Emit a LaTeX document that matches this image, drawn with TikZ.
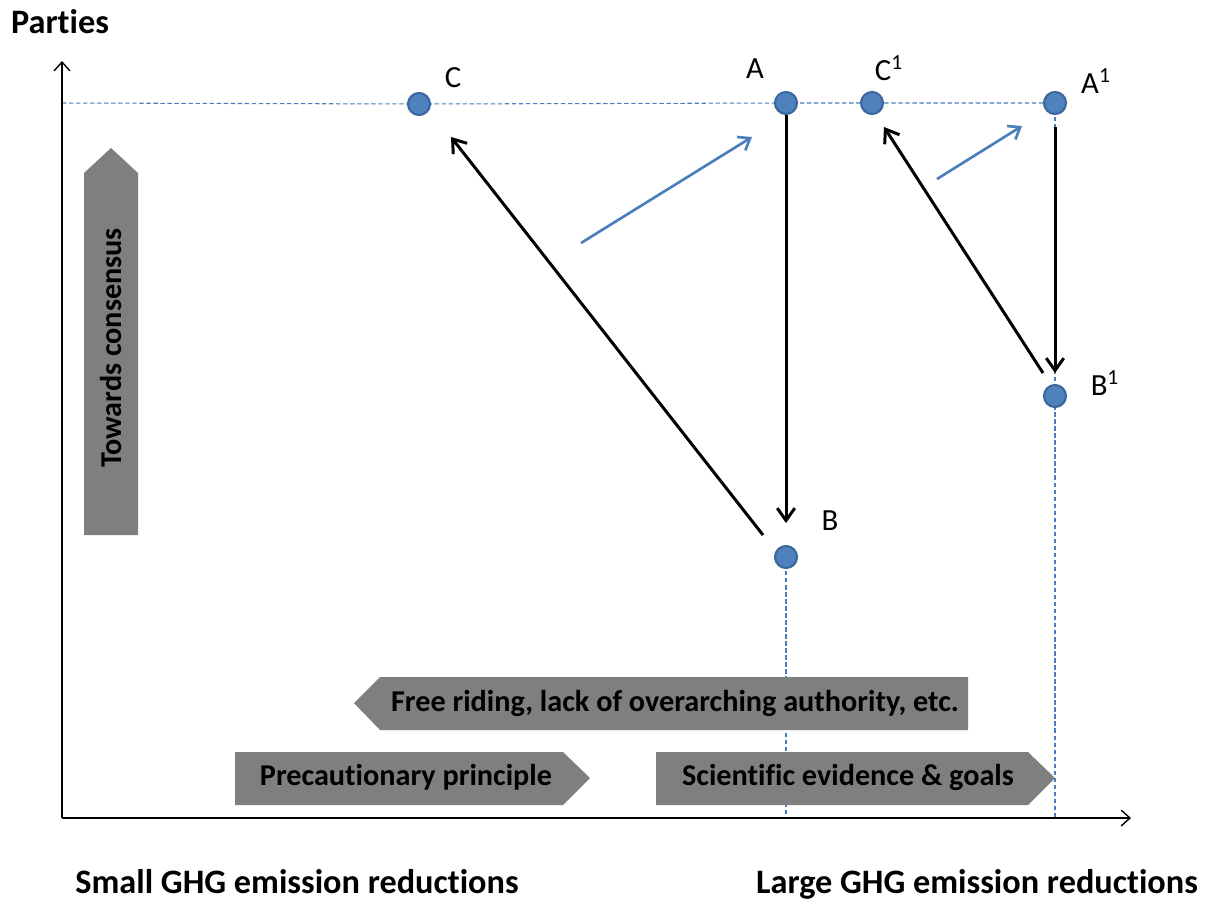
\documentclass[tikz,border=0pt]{standalone}
\usepackage{fontspec}
\setmainfont[Ligatures=NoCommon]{Carlito}
\usetikzlibrary{arrows.meta,backgrounds}
\definecolor{ptfill}{HTML}{4F81BD}
\definecolor{ptedge}{HTML}{3A679C}
\definecolor{dashblue}{HTML}{4A7EBB}
\definecolor{boxgray}{HTML}{7F7F7F}
\tikzset{
  pt/.style={circle, fill=ptfill, draw=ptedge, line width=1.2pt, minimum size=0.44cm, inner sep=0pt},
  guide/.style={dashblue, line width=0.6pt, dash pattern=on 2.5pt off 1.5pt},
  axisline/.style={black, line width=0.8pt, -{Straight Barb[length=5pt,width=9pt]}},
  blackmove/.style={black, line width=1.7pt, -{Straight Barb[length=7pt,width=10pt,line width=1.7pt]}},
  bluemove/.style={dashblue, line width=1.5pt, -{Straight Barb[length=6pt,width=9pt,line width=1.5pt]}},
  lbl/.style={font=\fontsize{17.5}{20}\selectfont, inner sep=0pt},
  boxtxt/.style={font=\fontsize{17.2}{20}\selectfont\bfseries, inner sep=0pt},
  bigtxt/.style={font=\fontsize{19.5}{22}\selectfont\bfseries, inner sep=0pt},
}
\begin{document}
\begin{tikzpicture}[x=0.02cm, y=-0.02cm]
\useasboundingbox (0,0) rectangle (1207,904);
% axes
\coordinate (O) at (62,818);
\coordinate (Ytop) at (62,61);
\coordinate (Xend) at (1131,818);
\draw[axisline] (O) -- (Ytop);
\draw[axisline] (O) -- (Xend);
% points
\node[pt] (C) at (419,104) {};
\node[pt] (A) at (786,103) {};
\node[pt] (C1) at (872,103) {};
\node[pt] (A1) at (1055,103) {};
\node[pt] (B1) at (1055,396) {};
\node[pt] (B) at (786,557) {};
\coordinate (Bfoot) at (786,818);
\coordinate (B1foot) at (1055,818);
\coordinate (Yh) at (62,103);
% guides (behind everything)
\begin{pgfonlayer}{background}
\draw[guide] (Yh) -- (C.center) -- (A.center) -- (C1.center) -- (A1.center);
\draw[guide] (A1.center) -- (B1.center) -- (B1foot);
\draw[guide] (B.center) -- (Bfoot);
\end{pgfonlayer}
% gray shapes
\fill[boxgray] (84,535) -- (84,173) -- (111,148) -- (138,173) -- (138,535) -- cycle;
\node[boxtxt, rotate=90] (tc) at (111,348) {Towards consensus};
\fill[boxgray] (354,703) -- (380,677) -- (968,677) -- (968,730) -- (380,730) -- cycle;
\node[boxtxt] (fr) at (675,703) {Free riding, lack of overarching authority, etc.};
\fill[boxgray] (235,752) -- (563,752) -- (590,778) -- (563,805) -- (235,805) -- cycle;
\node[boxtxt] (pp) at (406,777) {Precautionary principle};
\fill[boxgray] (656,752) -- (1028,752) -- (1055,778) -- (1028,805) -- (656,805) -- cycle;
\node[boxtxt] (se) at (848,777) {Scientific evidence \& goals};
% moves
\coordinate (btip) at (786,523);
\draw[blackmove] (A) -- (btip);
\coordinate (bcs) at (763,535);
\coordinate (bce) at (451,137);
\draw[blackmove] (bcs) -- (bce);
\coordinate (a1s) at (1055,127);
\coordinate (b1e) at (1055,373);
\draw[blackmove] (a1s) -- (b1e);
\coordinate (b1cs) at (1043,373);
\coordinate (b1ce) at (884,127);
\draw[blackmove] (b1cs) -- (b1ce);
\coordinate (s1s) at (581,243);
\coordinate (s1e) at (752,137);
\draw[bluemove] (s1s) -- (s1e);
\coordinate (s2s) at (937,179);
\coordinate (s2e) at (1022,126);
\draw[bluemove] (s2s) -- (s2e);
% labels
\node[lbl] (lC) at (453,78) {C};
\node[lbl] (lA) at (755,69) {A};
\node[lbl] (lC1) at (889,68) {C\textsuperscript{1}};
\node[lbl] (lA1) at (1096,81) {A\textsuperscript{1}};
\node[lbl] (lB1) at (1105,383) {B\textsuperscript{1}};
\node[lbl] (lB) at (830,521) {B};
% axis titles
\node[bigtxt, anchor=base] (parties) at (60,33) {Parties};
\node[bigtxt, anchor=base] (small) at (297,893) {Small GHG emission reductions};
\node[bigtxt, anchor=base] (large) at (977,893) {Large GHG emission reductions};
\end{tikzpicture}
\end{document}
